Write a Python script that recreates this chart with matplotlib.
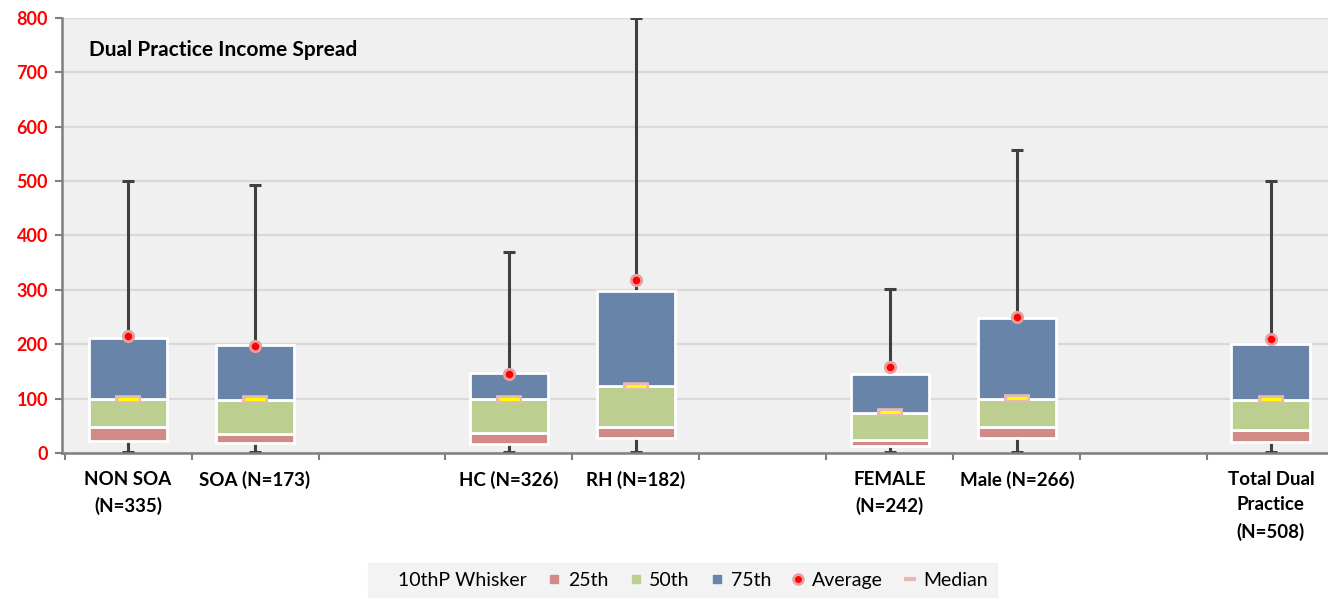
import matplotlib.pyplot as plt
from matplotlib.lines import Line2D
import numpy as np

# groups with blank slots between them
labels = ["NON SOA\n(N=335)", "SOA (N=173)", "", "HC (N=326)", "RH (N=182)", "",
          "FEMALE\n(N=242)", "Male (N=266)", "", "Total Dual\nPractice\n(N=508)"]
slots = [0, 1, 3, 4, 6, 7, 9]

p10 = [22, 18, 16, 28, 13, 28, 20]
p25 = [47, 35, 36, 47, 23, 48, 43]
p50 = [99, 98, 99, 123, 74, 99, 98]
p75 = [212, 198, 148, 298, 146, 249, 200]
whisk_lo = [2, 2, 2, 2, 2, 2, 2]
whisk_hi = [500, 493, 370, 800, 301, 557, 500]
average = [215, 197, 146, 319, 159, 250, 209]
median = [100, 100, 100, 124, 75, 101, 99]

c25 = "#D38A87"
c50 = "#BCCE90"
c75 = "#6884A8"
bg = "#F0F0F0"

plt.rcParams['font.family'] = ['Lato', 'DejaVu Sans']

fig = plt.figure(figsize=(13.28, 6), dpi=100)
ax = fig.add_axes([62 / 1328, 147 / 600, 1 - 62 / 1328, 435 / 600])
ax.set_facecolor(bg)

x = np.array(slots)
w = 0.62
lo, q25, q50, q75 = map(np.array, (p10, p25, p50, p75))

# whiskers behind the boxes
ax.vlines(x, whisk_lo, whisk_hi, color="#404040", lw=2.2, zorder=2)
ax.hlines(whisk_hi, x - 0.05, x + 0.05, color="#404040", lw=2.2, zorder=2)
ax.hlines(whisk_lo, x - 0.05, x + 0.05, color="#404040", lw=2.2, zorder=2)

ax.bar(x, q25 - lo, w, bottom=lo, color=c25, edgecolor="white", lw=2, zorder=3)
ax.bar(x, q50 - q25, w, bottom=q25, color=c50, edgecolor="white", lw=2, zorder=3)
ax.bar(x, q75 - q50, w, bottom=q50, color=c75, edgecolor="white", lw=2, zorder=3)

ax.plot(x, median, ls="none", marker="_", ms=19, mew=5.5, mec="#E6B9B8", zorder=4)
ax.plot(x, median, ls="none", marker="_", ms=15, mew=2.2, mec="#FFFF00", zorder=5)
ax.plot(x, average, ls="none", marker="o", ms=7.5, mfc="#FF0000", mec="#E6A0A0", mew=2, zorder=6)

ax.set_xlim(-0.52, 9.45)
ax.set_ylim(0, 800)
ax.set_yticks(range(0, 801, 100))
ax.yaxis.grid(True, color="#D9D9D9", lw=1.6)
ax.set_axisbelow(True)
ax.tick_params(axis="y", colors="#7F7F7F", labelcolor="#FF0000", length=5, width=1.5, pad=5)
for t in ax.get_yticklabels():
    t.set_fontweight("bold")
    t.set_fontsize(13)

ax.set_xticks(range(10))
ax.set_xticklabels(labels, fontsize=13.5, fontweight="bold", linespacing=1.6)
ax.tick_params(axis="x", which="major", length=0, pad=13)
ax.set_xticks(np.arange(-0.5, 9.5, 1), minor=True)
ax.tick_params(axis="x", which="minor", length=5, width=1.5, colors="#7F7F7F")

for s in ("top", "right"):
    ax.spines[s].set_visible(False)
for s in ("left", "bottom"):
    ax.spines[s].set_color("#7F7F7F")
    ax.spines[s].set_linewidth(1.8)

ax.text(0.021, 0.926, "Dual Practice Income Spread", transform=ax.transAxes,
        fontsize=15, fontweight="bold", va="center")

handles = [
    Line2D([], [], color="none"),
    Line2D([], [], ls="none", marker="s", ms=6, mfc=c25, mec=c25),
    Line2D([], [], ls="none", marker="s", ms=6, mfc=c50, mec=c50),
    Line2D([], [], ls="none", marker="s", ms=6, mfc=c75, mec=c75),
    Line2D([], [], ls="none", marker="o", ms=7, mfc="#FF0000", mec="#E6A0A0", mew=2),
    Line2D([], [], ls="none", marker="_", ms=8, mew=3, mec="#E6B9B8"),
]
names = ["10thP Whisker", "25th", "50th", "75th", "Average", "Median"]
leg = fig.legend(handles, names, loc="lower center", bbox_to_anchor=(0.514, -0.012),
                 ncol=6, frameon=True, fontsize=14, handlelength=0.8,
                 handletextpad=0.3, columnspacing=1.0, borderpad=0.45, fancybox=False)
leg.get_frame().set_facecolor(bg)
leg.get_frame().set_edgecolor(bg)

fig.savefig("out.png", dpi=100, facecolor="white")
